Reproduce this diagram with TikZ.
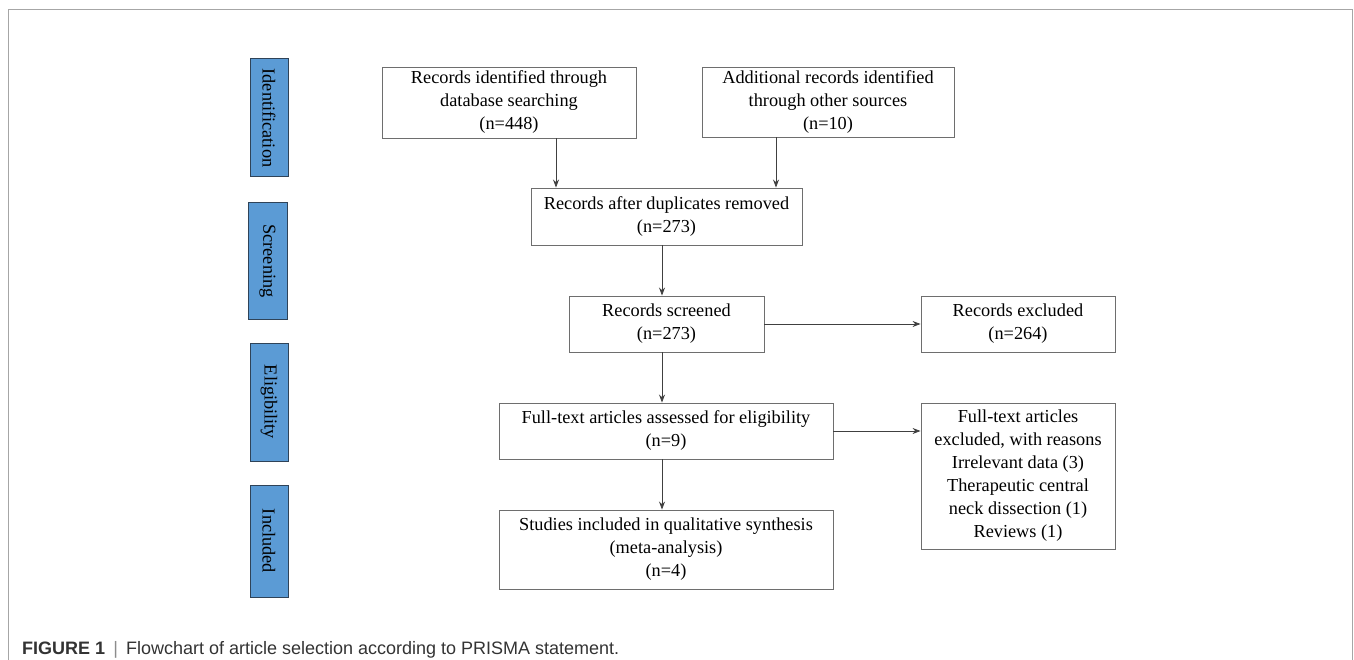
\documentclass[tikz,border=0pt]{standalone}
\usepackage{fontspec}
\setmainfont{Liberation Serif}
\newfontfamily\capfont{Liberation Sans}
\usetikzlibrary{arrows.meta}
\definecolor{boxline}{HTML}{6E6E6E}
\definecolor{sidefill}{HTML}{5B9BD5}
\definecolor{sideline}{HTML}{2F4358}
\definecolor{framegray}{HTML}{A6A6A6}
\definecolor{captext}{HTML}{333333}
\tikzset{
  flowbox/.style={draw=boxline, line width=0.9pt, fill=white, align=center, inner sep=0pt,
    font=\fontsize{18.3}{23}\selectfont},
  sidebox/.style={draw=sideline, line width=1pt, fill=sidefill, rotate=-90, inner sep=0pt,
    font=\fontsize{18.3}{23}\selectfont},
  flowarrow/.style={draw=black!75, line width=0.8pt, -{Stealth[length=8pt,width=6pt]}}
}
\begin{document}
\begin{tikzpicture}[x=1pt,y=-1pt]
\useasboundingbox (0,0) rectangle (1354,660);
% outer frame
\draw[framegray, line width=1pt] (8,660) -- (8,10) -- (1352,10) -- (1352,660);

% side labels
\node[sidebox, minimum width=118, minimum height=38] (id) at (269,118) {Identification};
\node[sidebox, minimum width=116, minimum height=39] (scr) at (267.5,261) {Screening};
\node[sidebox, minimum width=118, minimum height=38] (eli) at (269,402) {Eligibility};
\node[sidebox, minimum width=112, minimum height=38] (inc) at (269,541) {Included};

% flow boxes
\node[flowbox, minimum width=254, minimum height=71] (db) at (509,102.5)
  {Records identified through\\database searching\\(n=448)};
\node[flowbox, minimum width=252, minimum height=70] (other) at (828,102)
  {Additional records identified\\through other sources\\(n=10)};
\node[flowbox, minimum width=271, minimum height=57] (dup) at (666.5,216.5)
  {Records after duplicates removed\\(n=273)};
\node[flowbox, minimum width=195, minimum height=56] (scrn) at (666.5,324)
  {Records screened\\(n=273)};
\node[flowbox, minimum width=194, minimum height=56] (excl) at (1018,324)
  {Records excluded\\(n=264)};
\node[flowbox, minimum width=334, minimum height=56] (full) at (666,431)
  {Full-text articles assessed for eligibility\\(n=9)};
\node[flowbox, minimum width=194, minimum height=146] (fexcl) at (1018,476)
  {Full-text articles\\excluded, with reasons\\Irrelevant data (3)\\Therapeutic central\\neck dissection (1)\\Reviews (1)};
\node[flowbox, minimum width=334, minimum height=79] (incl) at (666,549.5)
  {Studies included in qualitative synthesis\\(meta-analysis)\\(n=4)};

% arrow x positions
\coordinate (ax1) at (556,0);
\coordinate (ax2) at (776,0);
\coordinate (axm) at (662,0);

\draw[flowarrow] (db.south -| ax1) -- (dup.north -| ax1);
\draw[flowarrow] (other.south -| ax2) -- (dup.north -| ax2);
\draw[flowarrow] (dup.south -| axm) -- (scrn.north -| axm);
\draw[flowarrow] (scrn.east) -- (excl.west);
\draw[flowarrow] (scrn.south -| axm) -- (full.north -| axm);
\draw[flowarrow] (full.east) -- (fexcl.west |- full.east);
\draw[flowarrow] (full.south -| axm) -- (incl.north -| axm);

% caption
\node[anchor=base west, inner sep=0pt, text=captext, font=\capfont\fontsize{18}{21}\selectfont] (cap) at (22,654)
  {\textbf{FIGURE 1}\hspace{0.45em}{\color{black!45}|}\hspace{0.45em}Flowchart of article selection according to PRISMA statement.};
\end{tikzpicture}
\end{document}
